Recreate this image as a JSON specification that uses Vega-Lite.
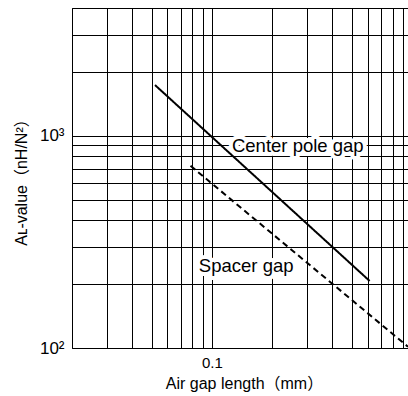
{
  "$schema": "https://vega.github.io/schema/vega-lite/v6.json",
  "width": 336,
  "height": 340,
  "autosize": {"type": "none"},
  "padding": {"left": 72, "top": 8, "right": 0, "bottom": 48},
  "background": "white",
  "config": {
    "font": "Liberation Sans, Noto Sans CJK JP, sans-serif",
    "view": {"stroke": "black", "strokeWidth": 1}
  },
  "datasets": {
    "lines": [
      {"series": "Center pole gap", "x": 0.052, "y": 1733},
      {"series": "Center pole gap", "x": 0.614, "y": 207},
      {"series": "Spacer gap", "x": 0.0782, "y": 722},
      {"series": "Spacer gap", "x": 0.955, "y": 101.4}
    ],
    "labels": [
      {"label": "Center pole gap", "x": 0.126, "y": 835},
      {"label": "Spacer gap", "x": 0.0861, "y": 229}
    ]
  },
  "layer": [
    {
      "data": {"name": "labels"},
      "mark": {"type": "text", "align": "left", "baseline": "alphabetic", "fontSize": 18.5, "fill": "white", "stroke": "white", "strokeWidth": 8, "strokeJoin": "round"},
      "encoding": {
        "x": {
          "field": "x", "type": "quantitative",
          "scale": {"type": "log", "domain": [0.02, 0.955], "nice": false},
          "axis": {
            "values": [0.02, 0.03, 0.04, 0.05, 0.06, 0.07, 0.08, 0.09, 0.1, 0.2, 0.3, 0.4, 0.5, 0.6, 0.7, 0.8, 0.9],
            "labelExpr": "datum.value == 0.1 ? '0.1' : ''",
            "grid": true, "gridColor": "black", "gridOpacity": 1, "gridWidth": 1,
            "ticks": false, "domain": false,
            "labelFontSize": 15, "labelColor": "black", "labelPadding": 7, "labelFlush": false, "labelOverlap": false,
            "title": "Air gap length（mm）", "titleFontSize": 16, "titleFontWeight": "normal", "titleColor": "black",
            "titleX": 172, "titleY": 40, "titleBaseline": "alphabetic", "titleAlign": "center"
          }
        },
        "y": {
          "field": "y", "type": "quantitative",
          "scale": {"type": "log", "domain": [100, 4000], "nice": false},
          "axis": {
            "values": [100, 200, 300, 400, 500, 600, 700, 800, 900, 1000, 2000, 3000, 4000],
            "labelExpr": "datum.value == 1000 ? '10³' : (datum.value == 100 ? '10²' : '')",
            "grid": true, "gridColor": "black", "gridOpacity": 1, "gridWidth": 1,
            "ticks": false, "domain": false,
            "labelFontSize": 17, "labelColor": "black", "labelPadding": 8, "labelFlush": false, "labelOverlap": false,
            "title": "Aʟ-value（nH/N²）", "titleFontSize": 16, "titleFontWeight": "normal", "titleColor": "black",
            "titleX": -51, "titleY": 170, "titleAngle": -90, "titleBaseline": "middle", "titleAlign": "center"
          }
        },
        "text": {"field": "label"}
      }
    },
    {
      "data": {"name": "lines"},
      "mark": {"type": "line", "color": "black", "strokeWidth": 2, "clip": true},
      "encoding": {
        "x": {"field": "x", "type": "quantitative"},
        "y": {"field": "y", "type": "quantitative"},
        "detail": {"field": "series"},
        "strokeDash": {"field": "series", "type": "nominal", "scale": {"domain": ["Center pole gap", "Spacer gap"], "range": [[1, 0], [6, 4]]}, "legend": null}
      }
    },
    {
      "data": {"name": "labels"},
      "mark": {"type": "text", "align": "left", "baseline": "alphabetic", "fontSize": 18.5, "color": "black"},
      "encoding": {
        "x": {"field": "x", "type": "quantitative"},
        "y": {"field": "y", "type": "quantitative"},
        "text": {"field": "label"}
      }
    }
  ]
}
